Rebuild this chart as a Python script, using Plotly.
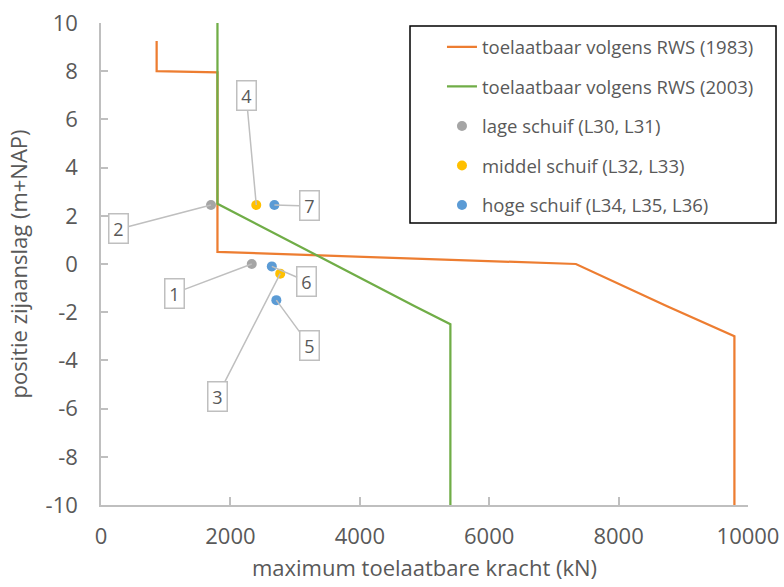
import plotly.graph_objects as go

# --- data ---
rws1983_x = [860, 860, 1800, 1800, 7340, 8750, 9790, 9790]
rws1983_y = [9.25, 8.0, 7.95, 0.5, 0.0, -1.75, -3.0, -10.0]

rws2003_x = [1800, 1800, 4850, 5400, 5400]
rws2003_y = [10.0, 2.5, -1.75, -2.5, -10.0]

lage_x = [2330, 1700]
lage_y = [0.0, 2.45]
lage_labels = ["1", "2"]

middel_x = [2770, 2400]
middel_y = [-0.4, 2.45]
middel_labels = ["3", "4"]

hoge_x = [2710, 2640, 2680]
hoge_y = [-1.5, -0.1, 2.45]
hoge_labels = ["5", "6", "7"]

x_ticks = [0, 2000, 4000, 6000, 8000, 10000]
x_ticktext = ["0", "2000", "4000", "6000", "8000", "10000"]
y_ticks = [-10, -8, -6, -4, -2, 0, 2, 4, 6, 8, 10]
y_ticktext = ["-10", "-8", "-6", "-4", "-2", "0", "2", "4", "6", "8", "10"]

# label offsets (pixels) for callouts 1..7
label_dx = [-77, -92, -63, -10, 33, 35, 35]
label_dy = [29, 24, 123, -109, 45, 15, 1]

FONT = "Open Sans"
TXT = "#595959"
AX = "#bfbfbf"

fig = go.Figure()
fig.add_trace(go.Scatter(x=rws1983_x, y=rws1983_y, mode="lines",
                         name="toelaatbaar volgens RWS (1983)",
                         line=dict(color="#ED7D31", width=2.25), legendgroup="a"))
fig.add_trace(go.Scatter(x=rws2003_x, y=rws2003_y, mode="lines",
                         name="toelaatbaar volgens RWS (2003)",
                         line=dict(color="#70AD47", width=2.25), legendgroup="b"))
fig.add_trace(go.Scatter(x=lage_x, y=lage_y, mode="markers",
                         name="lage schuif (L30, L31)",
                         marker=dict(color="#A5A5A5", size=10), legendgroup="c"))
fig.add_trace(go.Scatter(x=middel_x, y=middel_y, mode="markers",
                         name="middel schuif (L32, L33)",
                         marker=dict(color="#FFC000", size=10), legendgroup="d"))
fig.add_trace(go.Scatter(x=hoge_x, y=hoge_y, mode="markers",
                         name="hoge schuif (L34, L35, L36)",
                         marker=dict(color="#5B9BD5", size=10), legendgroup="e"))

pts_x = lage_x + middel_x + hoge_x
pts_y = lage_y + middel_y + hoge_y
pts_t = lage_labels + middel_labels + hoge_labels
for i, (px, py, t) in enumerate(zip(pts_x, pts_y, pts_t)):
    fig.add_annotation(x=px, y=py, text=t, showarrow=True, arrowhead=0,
                       arrowcolor=AX, arrowwidth=1.5, standoff=0,
                       ax=label_dx[i], ay=label_dy[i],
                       font=dict(family=FONT, size=18, color=TXT),
                       bordercolor=AX, borderwidth=1.5, borderpad=2,
                       bgcolor="white", width=14)

# legend frame
fig.add_shape(type="rect", xref="paper", yref="paper",
              x0=0.4776, x1=1.0433, y0=0.585, y1=0.9938,
              line=dict(color="black", width=1.5), fillcolor="white", layer="below")

fig.update_layout(
    width=784, height=587,
    margin=dict(l=101, r=36, t=23, b=82, autoexpand=False),
    paper_bgcolor="white", plot_bgcolor="white",
    font=dict(family=FONT, color=TXT),
    showlegend=True,
    legend=dict(x=0.527, y=0.989, xanchor="left", yanchor="top",
                bgcolor="rgba(0,0,0,0)", borderwidth=0,
                font=dict(family=FONT, size=18.5, color=TXT),
                tracegroupgap=12.5, itemwidth=30),
    xaxis=dict(range=[0, 10000], tickvals=x_ticks, ticktext=x_ticktext,
               showgrid=False, zeroline=False, automargin=False,
               showline=True, linecolor=AX, linewidth=1.5,
               ticks="inside", ticklen=8, tickcolor=AX, tickwidth=1.5,
               tickfont=dict(family=FONT, size=22, color=TXT),
               ticklabelstandoff=11,
               title=dict(text="maximum toelaatbare kracht (kN)",
                          font=dict(family=FONT, size=22, color=TXT), standoff=11)),
    yaxis=dict(range=[-10, 10], tickvals=y_ticks, ticktext=y_ticktext,
               showgrid=False, zeroline=False, automargin=False,
               showline=True, linecolor=AX, linewidth=1.5,
               ticks="inside", ticklen=7, tickcolor=AX, tickwidth=1.5,
               tickfont=dict(family=FONT, size=22, color=TXT),
               ticklabelstandoff=17,
               title=dict(text="positie zijaanslag (m+NAP)",
                          font=dict(family=FONT, size=22, color=TXT), standoff=12)),
)

fig.write_html("out.html")
